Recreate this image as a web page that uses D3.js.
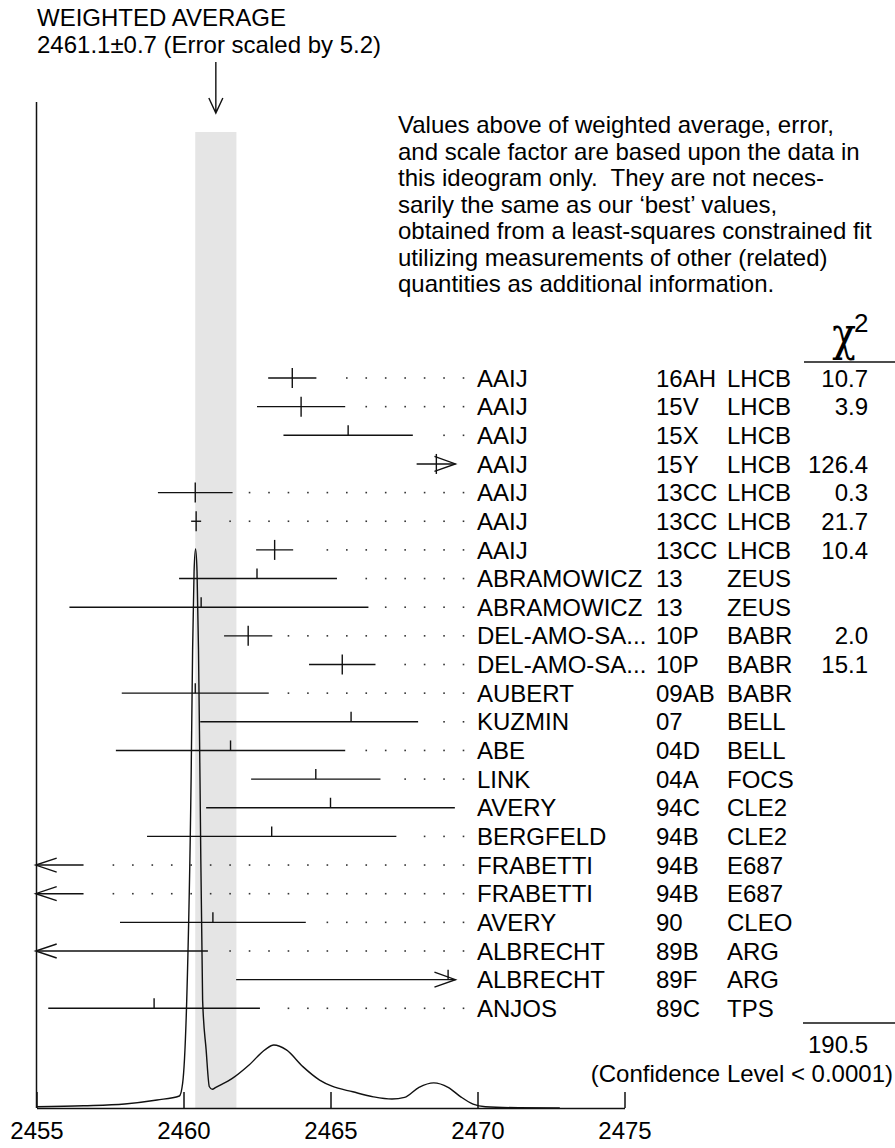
<!DOCTYPE html>
<html>
<head>
<meta charset="utf-8">
<script src="https://cdn.jsdelivr.net/npm/d3@7"></script>
<style>
  body { margin: 0; background: #fff; }
</style>
</head>
<body>
<div id="chart"></div>
<script>
const names = ["AAIJ", "AAIJ", "AAIJ", "AAIJ", "AAIJ", "AAIJ", "AAIJ", "ABRAMOWICZ", "ABRAMOWICZ",
  "DEL-AMO-SA...", "DEL-AMO-SA...", "AUBERT", "KUZMIN", "ABE", "LINK", "AVERY", "BERGFELD",
  "FRABETTI", "FRABETTI", "AVERY", "ALBRECHT", "ALBRECHT", "ANJOS"];
const refs = ["16AH", "15V", "15X", "15Y", "13CC", "13CC", "13CC", "13", "13", "10P", "10P", "09AB",
  "07", "04D", "04A", "94C", "94B", "94B", "94B", "90", "89B", "89F", "89C"];
const exps = ["LHCB", "LHCB", "LHCB", "LHCB", "LHCB", "LHCB", "LHCB", "ZEUS", "ZEUS", "BABR", "BABR",
  "BABR", "BELL", "BELL", "FOCS", "CLE2", "CLE2", "E687", "E687", "CLEO", "ARG", "ARG", "TPS"];
const chi2 = ["10.7", "3.9", "", "126.4", "0.3", "21.7", "10.4", "", "", "2.0", "15.1", "", "", "", "",
  "", "", "", "", "", "", "", ""];
const values = [2463.7, 2464.0, 2465.6, 2468.6, 2460.4, 2460.43, 2463.1, 2462.5, 2460.6, 2462.2, 2465.4,
  2460.4, 2465.7, 2461.6, 2464.5, 2465.0, 2463.0, 2453.0, 2453.0, 2461.0, 2455.0, 2469.0, 2459.0];
const errLo = [0.82, 1.5, 2.2, 0.67, 1.27, 0.17, 0.63, 2.65, 4.48, 0.82, 1.13, 2.5, 5.13, 3.9, 2.2, 4.23,
  4.24, 3.6, 3.6, 3.16, 5.83, 7.21, 3.6];
const errHi = [0.82, 1.5, 2.2, 0.67, 1.27, 0.17, 0.63, 2.72, 5.69, 0.82, 1.13, 2.5, 2.28, 3.9, 2.2, 4.23,
  4.24, 3.6, 3.6, 3.16, 5.83, 7.21, 3.6];

// ideogram curve (mass, relative height)
const curveX = [2455.0, 2456.6, 2458.0, 2459.1, 2459.86, 2459.97, 2460.11, 2460.26, 2460.31, 2460.36,
  2460.41, 2460.46, 2460.51, 2460.56, 2460.65, 2460.77, 2460.88, 2460.98, 2461.10, 2461.66, 2462.23,
  2462.79, 2463.07, 2463.50, 2464.06, 2464.63, 2465.05, 2465.76, 2466.46, 2467.09, 2467.52, 2468.01,
  2468.51, 2469.00, 2469.43, 2469.85, 2470.27, 2471.40, 2472.80];
const curveY = [0.23, 0.41, 0.72, 1.43, 2.15, 4.4, 19.3, 59.3, 82, 96, 100, 96, 82, 59.3, 19.3, 10.4,
  3.8, 3.35, 3.7, 5.3, 7.7, 10.5, 11.27, 10.4, 7.4, 5.0, 3.9, 2.9, 2.0, 1.6, 1.9, 3.7, 4.5, 3.7, 2.0,
  0.7, 0.23, 0.05, 0];

const xTicks = [2455, 2460, 2465, 2470, 2475];
const avg = 2461.1, avgErr = 0.7;

const width = 895, height = 1148;
const font = "'Liberation Sans', Arial, Helvetica, sans-serif";
const ink = "#111";

const svg = d3.select("#chart").append("svg")
  .attr("width", width)
  .attr("height", height)
  .style("font-family", font);

const x = d3.scaleLinear().domain([2455, 2475]).range([36.5, 624.5]);
const y = d3.scalePoint().domain(d3.range(names.length)).range([378, 1008.3]);
const yc = d3.scaleLinear().domain([0, 100]).range([1108, 549]);
const clipLo = 2455, clipHi = 2469.25;
const axisY = 1108;

// weighted average band
svg.append("rect")
  .attr("x", x(avg - avgErr))
  .attr("width", x(avg + avgErr) - x(avg - avgErr))
  .attr("y", 132)
  .attr("height", axisY - 132)
  .attr("fill", "#e5e5e5");

// titles
svg.append("text").attr("x", 37).attr("y", 26).attr("font-size", 24).text("WEIGHTED AVERAGE");
svg.append("text").attr("x", 37).attr("y", 53).attr("font-size", 24)
  .text(`${avg}\u00b1${avgErr} (Error scaled by 5.2)`);

// arrow to the average
const ax = x(avg);
svg.append("path")
  .attr("d", `M${ax},62V113M${ax - 7},98L${ax},113L${ax + 7},98`)
  .attr("fill", "none").attr("stroke", ink).attr("stroke-width", 1.4);

const note = [
  "Values above of weighted average, error,",
  "and scale factor are based upon the data in",
  "this ideogram only.  They are not neces-",
  "sarily the same as our \u2018best\u2019 values,",
  "obtained from a least-squares constrained fit",
  "utilizing measurements of other (related)",
  "quantities as additional information."
];
svg.append("g").selectAll("text")
  .data(note)
  .join("text")
    .attr("x", 398)
    .attr("y", (d, i) => 133 + i * 26.5)
    .attr("font-size", 24)
    .style("white-space", "pre")
    .text(d => d);

// y axis line
svg.append("line")
  .attr("x1", x(2455)).attr("x2", x(2455))
  .attr("y1", 102).attr("y2", axisY)
  .attr("stroke", ink).attr("stroke-width", 1.5);

// dotted leaders
const dotX = d3.range(0, 21).map(k => 463.5 - 19.45 * k).filter(v => v > 40);
const rows = names.map((n, i) => ({
  i, v: values[i], lo: values[i] - errLo[i], hi: values[i] + errHi[i], used: chi2[i] !== ""
}));

const bars = svg.append("g").attr("stroke", ink).attr("stroke-width", 1.4).attr("fill", "none");
rows.forEach(r => {
  const yy = y(r.i);
  const x1 = x(Math.max(r.lo, clipLo)), x2 = x(Math.min(r.hi, clipHi));
  bars.append("line").attr("x1", x1).attr("x2", x2).attr("y1", yy).attr("y2", yy);
  if (r.lo < clipLo) {
    const t = x1 - 0.8;
    bars.append("path").attr("d", `M${t + 21},${yy - 7}L${t},${yy}L${t + 21},${yy + 7}`);
  }
  if (r.hi > clipHi) {
    bars.append("path").attr("d", `M${x2 - 21},${yy - 7.5}L${x2},${yy}L${x2 - 21},${yy + 7.5}`);
  }
  if (r.v > clipLo && r.v < clipHi) {
    bars.append("line")
      .attr("x1", x(r.v)).attr("x2", x(r.v))
      .attr("y1", yy - 10).attr("y2", r.used ? yy + 10 : yy);
  }
  svg.append("g").selectAll("rect")
    .data(dotX.filter(d => d > x2 + 15))
    .join("rect")
      .attr("x", d => d - 0.8)
      .attr("y", yy - 0.8)
      .attr("width", 1.6)
      .attr("height", 1.6)
      .attr("fill", "#333");
});

// row labels
const labels = svg.append("g").attr("font-size", 24).attr("fill", "#000");
labels.selectAll(".name").data(rows).join("text").attr("class", "name")
  .attr("x", 477).attr("y", d => y(d.i) + 8.6).text(d => names[d.i]);
labels.selectAll(".ref").data(rows).join("text").attr("class", "ref")
  .attr("x", 656).attr("y", d => y(d.i) + 8.6).text(d => refs[d.i]);
labels.selectAll(".exp").data(rows).join("text").attr("class", "exp")
  .attr("x", 727).attr("y", d => y(d.i) + 8.6).text(d => exps[d.i]);
labels.selectAll(".chi").data(rows).join("text").attr("class", "chi")
  .attr("x", 868).attr("y", d => y(d.i) + 8.6).attr("text-anchor", "end").text(d => chi2[d.i]);

// chi-square header and total
svg.append("text")
  .attr("transform", "translate(844,350) scale(0.85,1)")
  .attr("text-anchor", "middle")
  .attr("font-size", 46)
  .style("font-family", "'DejaVu Serif', serif")
  .text("\u03c7");
svg.append("text").attr("x", 854).attr("y", 332).attr("font-size", 26).text("2");
svg.append("line").attr("x1", 804).attr("x2", 895).attr("y1", 362).attr("y2", 362)
  .attr("stroke", ink).attr("stroke-width", 1.4);
svg.append("line").attr("x1", 803).attr("x2", 895).attr("y1", 1023).attr("y2", 1023)
  .attr("stroke", ink).attr("stroke-width", 1.4);
svg.append("text").attr("x", 868).attr("y", 1053).attr("text-anchor", "end").attr("font-size", 24)
  .text("190.5");
svg.append("text").attr("x", 893).attr("y", 1082).attr("text-anchor", "end").attr("font-size", 24)
  .text("(Confidence Level < 0.0001)");

// ideogram
const pts = curveX.map((v, i) => [v, curveY[i]]);
svg.append("path")
  .datum(pts)
  .attr("d", d3.line().x(d => x(d[0])).y(d => yc(d[1])).curve(d3.curveMonotoneX))
  .attr("fill", "none").attr("stroke", ink).attr("stroke-width", 1.4);

// x axis
const gx = svg.append("g")
  .attr("transform", `translate(0,${axisY})`)
  .call(d3.axisBottom(x).tickValues(xTicks).tickSizeInner(-16).tickSizeOuter(0)
    .tickPadding(14).tickFormat(d3.format("d")))
  .attr("font-family", font)
  .attr("font-size", 24);
gx.selectAll("path, line").attr("stroke", ink).attr("stroke-width", 1.5);
gx.selectAll("text").attr("fill", "#000");
</script>
</body>
</html>
